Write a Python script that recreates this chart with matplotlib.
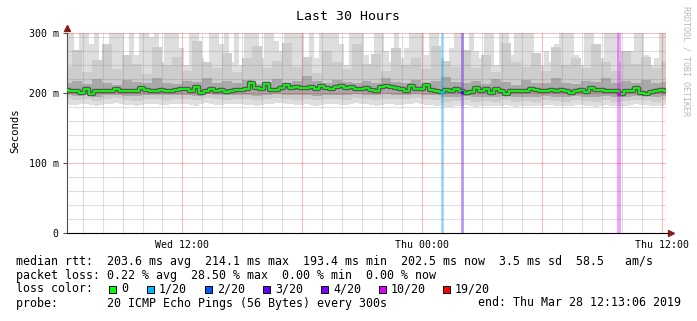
import numpy as np
import pandas as pd
import matplotlib
matplotlib.use('Agg')
import matplotlib.pyplot as plt
import matplotlib.dates as mdates
from matplotlib.patches import Rectangle

plt.rcParams['font.family'] = ['DejaVu Sans Mono']

# time span of the graph
start = pd.Timestamp('2019-03-27 06:13:06')
end = pd.Timestamp('2019-03-28 12:13:06')

# median rtt in ms, every 15 minutes
median = [204.8, 202.4, 202.4, 200.0, 205.7, 198.6, 203.3, 203.3, 202.4, 202.4,
          205.7, 203.3, 202.4, 202.4, 203.3, 207.1, 204.8, 202.4, 202.4, 203.8,
          202.4, 203.3, 204.3, 206.2,
          205.7, 203.3, 208.1, 200.0, 203.3, 206.2, 203.3, 204.8, 201.4, 203.3,
          204.3, 204.8, 206.2, 214.1, 207.1, 206.2, 212.9, 204.8, 204.8, 207.1,
          211.9, 207.1, 208.1, 207.1,
          207.1, 208.1, 206.2, 209.5, 207.1, 206.2, 208.1, 209.5, 207.1, 208.1,
          205.7, 206.2, 207.1, 204.8, 203.3, 208.1, 209.5, 209.0, 207.1, 206.2,
          203.3, 209.5, 206.2, 206.2,
          211.5, 204.8, 203.3, 201.4, 204.8, 203.3, 205.7, 202.4, 200.0, 201.0,
          207.1, 202.4, 205.7, 200.0, 205.7, 202.4, 199.0, 202.4, 202.4, 203.3,
          203.3, 206.2, 204.8, 202.4,
          203.3, 204.8, 202.4, 204.8, 203.3, 200.0, 202.4, 204.8, 201.4, 207.1,
          204.8, 204.8, 203.3, 203.3, 203.3, 199.0, 203.3, 202.4, 207.1, 200.0,
          199.0, 201.4, 202.4, 204.8, 202.5]

# top of the lightest smoke, every 15 minutes (clipped at top)
smoke_top = [300, 300, 250, 300, 300, 270, 300, 240, 260, 300,
             300, 300, 235, 300, 255, 300, 300, 280, 300, 245,
             300, 300, 300, 265, 240, 300, 300, 250, 230, 300,
             300, 270, 300, 245, 300, 240, 300, 300, 300, 250,
             300, 300, 275, 260, 300, 300, 300, 300, 235, 300,
             250, 300, 300, 300, 300, 270, 240, 300, 300, 300,
             255, 240, 300, 300, 260, 245, 300, 250, 265, 300,
             300, 300, 255, 300, 300, 250, 240, 265, 300, 300,
             245, 300, 260, 250, 300, 300, 240, 300, 300, 255,
             300, 300, 300, 300, 250, 240, 260, 245, 270, 300,
             300, 300, 255, 240, 300, 300, 265, 250, 300, 300,
             300, 245, 235, 260, 300, 300, 255, 240, 250, 300, 300]

# other smoke layers, every 30 minutes
smoke_low = [184, 183, 185, 182, 184, 186, 183, 182, 185, 184,
             183, 185, 184, 182, 186, 183, 184, 185, 183, 182,
             184, 186, 185, 183, 184, 182, 185, 184, 183, 186,
             184, 182, 185, 183, 184, 186, 183, 182, 180, 181,
             183, 180, 182, 181, 183, 180, 182, 181, 183, 182,
             181, 183, 182, 180, 183, 181, 182, 184, 183, 181, 183]
mid_low = [191, 190, 192, 189, 191, 193, 190, 189, 192, 191,
           190, 192, 191, 190, 193, 191, 190, 192, 191, 190,
           192, 193, 192, 190, 191, 190, 192, 191, 190, 193,
           191, 190, 192, 191, 192, 193, 191, 190, 188, 189,
           190, 188, 189, 188, 190, 188, 189, 188, 190, 189,
           188, 190, 189, 188, 190, 188, 189, 190, 190, 188, 190]
mid_top = [238, 262, 230, 248, 270, 235, 255, 242, 228, 266,
           240, 252, 232, 275, 245, 236, 258, 230, 250, 268,
           236, 246, 272, 238, 252, 229, 260, 244, 235, 270,
           242, 256, 231, 264, 240, 250, 234, 268, 246, 238,
           262, 236, 254, 230, 272, 244, 238, 258, 232, 266,
           240, 250, 236, 270, 244, 232, 260, 242, 252, 236, 246]
dark_low = [197, 196, 198, 195, 197, 198, 196, 196, 198, 197,
            197, 198, 197, 196, 199, 197, 197, 198, 197, 196,
            198, 199, 198, 197, 197, 196, 198, 197, 197, 199,
            198, 197, 199, 198, 198, 199, 198, 197, 195, 195,
            196, 194, 195, 195, 196, 194, 195, 195, 196, 195,
            195, 196, 195, 194, 196, 194, 195, 196, 196, 195, 196]
dark_top = [214, 218, 213, 220, 215, 212, 219, 216, 214, 222,
            215, 213, 218, 216, 221, 214, 217, 215, 219, 213,
            216, 220, 215, 218, 224, 217, 214, 219, 216, 215,
            218, 214, 221, 216, 215, 219, 213, 217, 223, 216,
            214, 218, 213, 220, 216, 212, 219, 215, 214, 221,
            215, 213, 218, 216, 222, 214, 217, 215, 219, 214, 216]

# loss events (time, lost pings of 20)
loss_times = ['2019-03-28 01:01', '2019-03-28 02:01', '2019-03-28 09:52']
loss_pings = [1, 3, 10]

legend_labels = ['0', '1/20', '2/20', '3/20', '4/20', '10/20', '19/20']
legend_colors = ['#00ff00', '#00b8ff', '#0059ff', '#5e00ff', '#7e00ff', '#dd00ff', '#ff0000']
loss_color = {0: '#00ff00', 1: '#00b8ff', 2: '#0059ff', 3: '#5e00ff', 4: '#7e00ff', 10: '#dd00ff', 19: '#ff0000'}

t15 = pd.date_range(start, periods=len(median), freq='15min')
t30 = pd.date_range(start, periods=len(smoke_low), freq='30min')

W, H = 697, 321
fig = plt.figure(figsize=(W / 100, H / 100), dpi=100)
ax = fig.add_axes([67 / W, 1 - 233 / H, 599 / W, 200 / H])

# smoke
lo15 = np.interp(np.arange(len(t15)) / 2, np.arange(len(t30)), smoke_low)
ax.fill_between(t15, lo15, smoke_top, step='mid', color='#dedede', lw=0, zorder=1)
ax.fill_between(t30, mid_low, mid_top, step='mid', color='#cdcdcd', lw=0, zorder=1)
ax.fill_between(t30, dark_low, dark_top, step='mid', color='#a9a9a9', lw=0, zorder=1)

# loss bars
for t, n in zip(loss_times, loss_pings):
    t = pd.Timestamp(t)
    ax.axvspan(t - pd.Timedelta('5min'), t + pd.Timedelta('5min'),
               color=loss_color[n], alpha=0.36, lw=0, zorder=2)

# median
ax.step(t15, median, where='mid', color='#555555', lw=3.2, zorder=4)
ax.step(t15, median, where='mid', color='#11ee11', lw=1.5, zorder=5)
tnum = mdates.date2num(t15)
for t, n in zip(loss_times, loss_pings):
    tn = mdates.date2num(pd.Timestamp(t))
    ax.plot([tn], [np.interp(tn, tnum, median)], marker='s', ms=2,
            color=loss_color[n], zorder=6)

ax.set_xlim(start, end)
ax.set_ylim(0, 286)

# grid
for v in range(20, 286, 20):
    if v % 100 == 0:
        ax.axhline(v, color='#e00000', alpha=0.25, lw=0.8, zorder=3)
    else:
        ax.axhline(v, color='#808080', alpha=0.25, lw=0.8, zorder=3)
ax.axhline(286, color='#e00000', alpha=0.25, lw=0.8, zorder=3)
for t in pd.date_range('2019-03-27 07:00', '2019-03-28 12:00', freq='h'):
    if t.hour % 6 == 0:
        ax.axvline(t, color='#e00000', alpha=0.25, lw=0.8, zorder=3)
    else:
        ax.axvline(t, color='#808080', alpha=0.25, lw=0.8, zorder=3)
ax.axvline(end - pd.Timedelta('1min'), color='#e00000', alpha=0.25, lw=0.8, zorder=3)

# axes
for s in ['top', 'right']:
    ax.spines[s].set_visible(False)
ax.spines['left'].set_color('#505050')
ax.spines['bottom'].set_color('black')
ax.spines['bottom'].set_bounds(mdates.date2num(start), mdates.date2num(end + pd.Timedelta('6min')))
ax.xaxis.set_major_locator(mdates.HourLocator(byhour=[0, 12]))
ax.xaxis.set_major_formatter(mdates.DateFormatter('%a %H:%M'))
ax.tick_params(axis='x', length=0, labelsize=7.1, pad=5)
ax.set_yticks([0, 100, 200, 286])
ax.set_yticklabels(['0', '100 m', '200 m', '300 m'])
ax.tick_params(axis='y', length=3, labelsize=7.1, pad=3, color='#505050')
ax.plot([0], [1.025], marker='^', ms=4, color='#8b1a1a', transform=ax.transAxes, clip_on=False)
ax.plot([1.009], [0], marker='>', ms=4, color='#8b1a1a', transform=ax.transAxes, clip_on=False)

def ftext(x, y, s, **kw):
    fig.text(x / W, 1 - y / H, s, **kw)

ftext(348, 16, 'Last 30 Hours', ha='center', va='center', fontsize=9.5)
ftext(15, 131, 'Seconds', rotation=90, ha='center', va='center', fontsize=7.7)
ftext(686, 61, 'RRDTOOL / TOBI OETIKER', rotation=270, ha='center', va='center',
      fontsize=6, color='#b8b8b8')

fs = 8.4
ftext(16, 262, 'median rtt:  203.6 ms avg  214.1 ms max  193.4 ms min  202.5 ms now  3.5 ms sd  58.5   am/s',
      va='center', fontsize=fs)
ftext(16, 275, 'packet loss: 0.22 % avg  28.50 % max  0.00 % min  0.00 % now', va='center', fontsize=fs)
ftext(16, 289, 'loss color:', va='center', fontsize=fs)
box_x = [109, 147, 205, 263, 321, 379, 443]
for bx, lab, c in zip(box_x, legend_labels, legend_colors):
    fig.add_artist(Rectangle((bx / W, 1 - 292.5 / H), 7 / W, 7 / H, facecolor=c,
                             edgecolor='black', lw=0.7, transform=fig.transFigure))
    ftext(bx + 12, 289, lab, va='center', fontsize=fs)
ftext(16, 303, 'probe:       20 ICMP Echo Pings (56 Bytes) every 300s', va='center', fontsize=fs)
ftext(478, 303, 'end: Thu Mar 28 12:13:06 2019', va='center', fontsize=fs)

fig.savefig('out.png', dpi=100)
